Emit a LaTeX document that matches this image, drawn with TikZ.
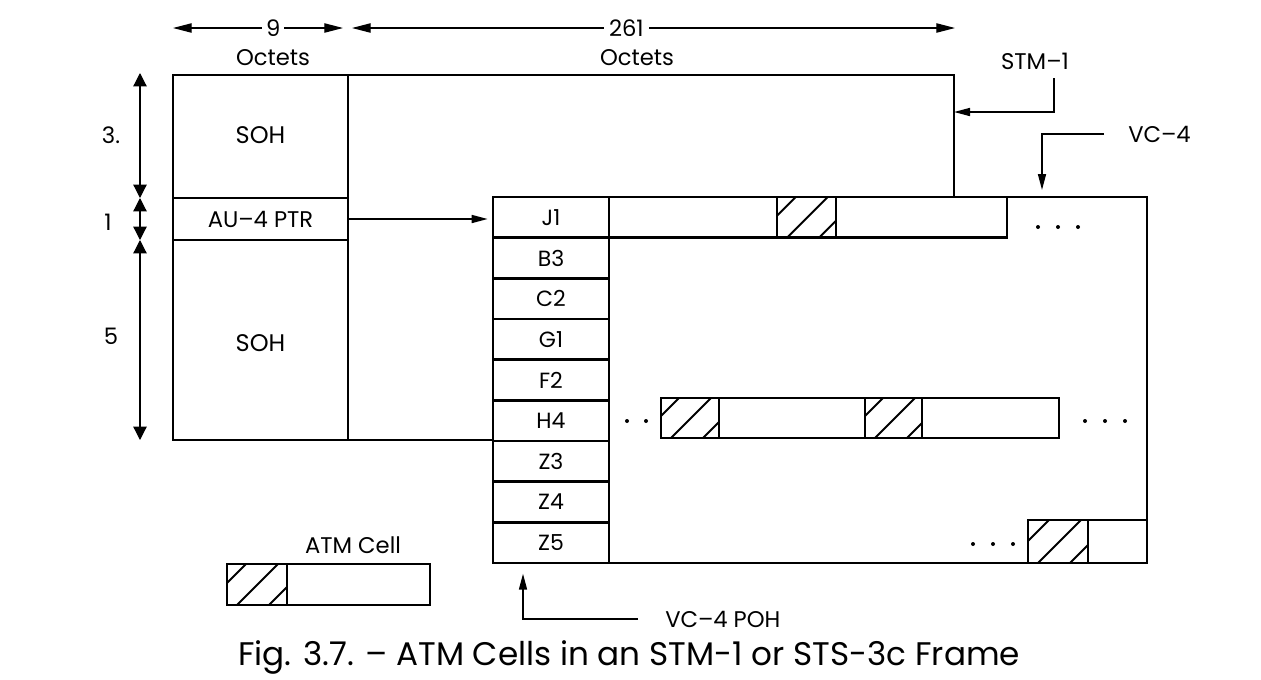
\documentclass[tikz,border=0pt]{standalone}
\usepackage{fontspec}
\setmainfont{Poppins}
\usetikzlibrary{arrows.meta}
\newcommand\hatchcell[4]{%
  \begin{scope}
    \clip (#1,#2) rectangle (#3,#4);
    \foreach \s in {-22,10,42} \draw[line width=1.5pt] (#1+\s,#4) -- ++(70,-70);
  \end{scope}
  \draw[line width=1.8pt] (#1,#2) rectangle (#3,#4);}
\begin{document}
\begin{tikzpicture}[x=0.75pt,y=-0.75pt,
  box/.style={draw, line width=1.8pt, inner sep=0, outer sep=0, anchor=north west},
  lbl/.style={font=\fontsize{17}{20}\selectfont, inner sep=0},
  row/.style={box, fill=white, minimum width=87pt, minimum height=30.5pt, font=\fontsize{16.5}{19}\selectfont},
  dimv/.style={line width=0.9pt, {Triangle[length=10pt,width=10pt]}-{Triangle[length=10pt,width=10pt]}},
  dimh/.style={line width=0.9pt, {Triangle[length=14pt,width=7pt]}-{Triangle[length=14pt,width=7pt]}},
  lead/.style={line width=1.2pt, -{Triangle[length=12pt,width=6pt]}},
  dot/.style={fill, circle, inner sep=0, minimum size=3pt}
]
\useasboundingbox (0,0) rectangle (1261,679);

% STM-1 frame
\node[box, minimum width=131.25pt, minimum height=92.25pt] (soh1) at (173,75) {};
\node[box, minimum width=131.25pt, minimum height=31.5pt] (ptr) at (173,198) {};
\node[box, minimum width=131.25pt, minimum height=150pt] (soh2) at (173,240) {};
\node[box, minimum width=454.5pt, minimum height=273.75pt] (stm) at (348,75) {};
\node[lbl, font=\fontsize{18}{21}\selectfont] (soh1t) at ([yshift=1pt]soh1.center) {SOH};
\node[lbl] (ptrt) at (ptr.center) {AU–4 PTR};
\node[lbl, font=\fontsize{18}{21}\selectfont] (soh2t) at ([yshift=-2pt]soh2.center) {SOH};

% VC-4
\node[box, fill=white, minimum width=490.5pt, minimum height=274.5pt] (vc4) at (493,197) {};
\foreach \t [count=\i from 0] in {J1,B3,C2,G1,F2,H4,Z3,Z4,Z5}
  \node[row] (r\t) at (493,197+40.667*\i) {\t};

% rows of cells
\node[box, minimum width=298.5pt, minimum height=30.5pt] (j1bar) at (609,197) {};
\hatchcell{777}{197}{836}{237.7}
\node[box, minimum width=298.5pt, minimum height=30pt] (h4bar) at (661,398) {};
\hatchcell{661}{398}{719}{438}
\hatchcell{865}{398}{922}{438}
\node[box, minimum width=89.25pt, minimum height=32.25pt] (z5cell) at (1028,520) {};
\hatchcell{1028}{520}{1088}{563}

% dots
\foreach \x in {1038,1058,1078} \node[dot] (dj\x) at (\x,227) {};
\foreach \x in {627,646} \node[dot] (dh\x) at (\x,421) {};
\foreach \x in {1085,1105,1125} \node[dot] (dk\x) at (\x,421) {};
\foreach \x in {973,993,1013} \node[dot] (dz\x) at (\x,544) {};

% ATM cell legend
\node[lbl] (atmlbl) at (353,545) {ATM Cell};
\node[box, minimum width=152.25pt, minimum height=30.75pt] (atm) at (227,564) {};
\hatchcell{227}{564}{287}{605}

% pointer arrow
\draw[lead, shorten >=4pt] (ptr.east) -- (vc4.west |- ptr.east);

% top dimensions
\coordinate (t0) at (173,28);
\coordinate (t1) at (343,28);
\coordinate (t1b) at (352,28);
\coordinate (t2) at (955,28);
\draw[dimh] (t0) -- (t1) node[pos=0.59, fill=white, lbl, inner xsep=3pt] (n9) {9};
\draw[dimh] (t1b) -- (t2) node[pos=0.455, fill=white, lbl, inner xsep=4pt] (n261) {261};
\node[lbl] (oct1) at (273,58) {Octets};
\node[lbl] (oct2) at (637,58) {Octets};

% left dimensions
\coordinate (d0) at (140,73);
\coordinate (d1) at (140,198);
\coordinate (d2) at (140,240);
\coordinate (d3) at (140,440);
\draw[dimv] (d0) -- (d1);
\draw[dimv] (d1) -- (d2);
\draw[dimv] (d2) -- (d3);
\node[lbl] (n3) at (111,135) {3.};
\node[lbl] (n1) at (108,222) {1};
\node[lbl] (n5) at (111,336) {5};

% leaders
\node[lbl] (stm1lbl) at (1035,61) {STM–1};
\coordinate (s1) at (1054,78);
\draw[lead] (s1) |- (stm.east |- 0,112);

\node[lbl, anchor=west] (vc4lbl) at (1128,134) {VC–4};
\coordinate (v1) at (1104,134);
\draw[lead] (v1) -| (1042,190);

\node[lbl, anchor=west] (pohlbl) at (665,619) {VC–4 POH};
\coordinate (p1) at (638,619);
\draw[lead, shorten >=8pt] (p1) -| (rZ5.south -| 523,0);

% caption
\node[font=\fontsize{24.5}{29}\selectfont, inner sep=0] (cap) at (629,657) {Fig. 3.7. – ATM Cells in an STM-1 or STS-3c Frame};
\end{tikzpicture}
\end{document}
